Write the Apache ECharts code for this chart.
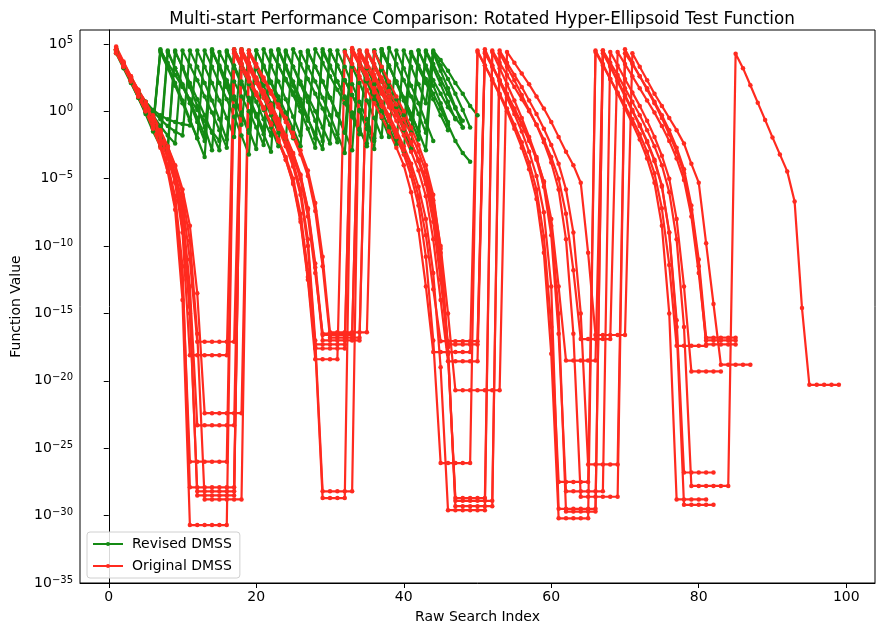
<!DOCTYPE html>
<html><head><meta charset="utf-8">
<script src="https://cdn.jsdelivr.net/npm/echarts@6/dist/echarts.min.js"></script>
<style>html,body{margin:0;padding:0;background:#fff}#c{width:876px;height:635px}</style>
</head><body><div id="c"></div>
<script>
// Values are log10(function value). Each run starts at raw search index 1;
// each inner array is one restart of the search (consecutive indices).
const revised1 = [[4.6,3.5,2.4,1.3,0.1,-1.3],[4.6,3.4,2.1,0.8,-0.6,-2.0,-3.4],[4.4,3.3,2.1,0.9,-0.3,-1.6],[4.5,3.4,2.2,1.1,-0.1,-1.3,-2.6],[4.5,3.3,2.2,1.0,-0.3,-1.6],[4.6,3.5,2.4,1.2,0.0,-1.2,-2.5],[4.5,3.3,2.0,0.6],[4.5,3.8,3.0,2.1,1.3,0.4,-0.3]];
const revised2 = [[4.4,3.3,2.2,1.0,-0.2,-1.5,-2.6],[4.4,3.2,2.0,0.8,-0.5,-1.8],[4.5,3.4,2.3,1.1,-0.1,-1.4,-2.8],[4.6,3.4,2.2,0.9,-0.4,-1.8],[4.4,3.3,2.2,1.0,-0.2,-1.5,-2.9],[4.5,3.2,2.0,0.7,-0.7,-2.1,-3.0],[4.4,3.4,2.4,1.3,0.2,-1.0,-2.2,-3.1,-3.75]];
const revised3 = [[4.5,3.4,2.3,1.2,0.0,-1.2,-2.0,-2.6],[4.5,3.2,1.8,0.4,-1.2,-2.9],[4.4,3.3,2.2,1.1,0.0,-1.2,-2.5],[4.5,3.4,2.3,1.2,0.0,-1.3,-2.7],[4.6,3.4,2.2,1.0,-0.3,-1.7],[4.4,3.3,2.2,1.1,-0.1,-1.4,-2.8],[4.5,3.4,2.3,1.3,0.3,-0.5,-1.2]];
const revised4 = [[4.5,3.4,2.4,1.5,0.7,0.1,-0.3,-0.6,-0.8,-0.95,-1.05],[4.5,3.3,2.1,0.8,-0.5,-1.9],[4.6,3.4,2.2,1.0,-0.3,-1.6],[4.4,3.3,2.2,1.1,0.0,-1.2,-2.4],[4.5,3.3,2.0,0.7,-0.6,-2.0],[4.6,3.4,2.2,1.0,-0.2,-1.5],[4.4,3.2,2.0,0.7,-0.6]];
const revised5 = [[4.3,3.2,2.1,1.0,-0.1,-1.0],[4.5,3.6,2.7,1.8,0.9,0.1,-0.7,-1.5,-2.2],[4.4,3.2,2.0,0.8,-0.4,-1.7,-3.0],[4.5,3.2,1.9,0.6,-0.7],[4.6,3.6,2.6,1.6,0.6,-0.4,-1.4,-2.4],[4.5,3.3,2.1,0.9,-0.3,-1.6],[4.5,3.2,1.9,0.6,-0.8]];
const revised6 = [[4.6,3.5,2.4,1.3,0.2,-0.8,-1.9,-2.9],[4.4,3.3,2.1,0.9,-0.3,-1.6,-2.9],[4.5,3.4,2.2,1.0,-0.2,-1.4],[4.4,3.4,2.4,1.4,0.4,-0.6,-1.7,-2.8],[4.5,3.4,2.3,1.2,0.1,-1.0,-2.2],[4.4,3.3,2.2,1.0,-0.2,-1.5,-2.9],[4.3,3.0,1.7,0.3,-1.2]];
const revised7 = [[4.4,3.3,2.2,1.1,0.0,-1.1,-2.0],[4.5,3.2,1.9,0.6,-0.8,-2.2],[4.6,3.2,1.8,0.4,-1.0],[4.5,3.2,1.9,0.6,-0.7,-2.1],[4.6,3.5,2.4,1.3,0.2,-1.0,-2.3],[4.5,3.3,2.1,0.8,-0.5,-1.9],[4.7,3.5,2.3,1.1,-0.2,-1.6],[4.4,3.4,2.4,1.3,0.1,-1.2]];
const revised8 = [[4.5,3.5,2.5,1.5,0.6,-0.3,-1.1,-1.8,-2.4],[4.5,3.4,2.3,1.1,-0.1,-1.4,-2.7],[4.4,3.2,2.0,0.7,-0.6,-1.8],[4.6,3.4,2.2,0.9,-0.5,-2.0],[4.4,3.3,2.2,1.1,-0.1,-1.3,-2.6],[4.5,3.1,1.7,0.3,-1.1],[4.3,3.2,2.1,0.9,-0.3,-1.4]];
const revised9 = [[4.4,3.4,2.4,1.5,0.7,0.0,-0.6,-1.1,-1.5,-1.8],[4.5,3.3,2.1,0.8,-0.6,-2.1],[4.6,3.5,2.4,1.3,0.1,-1.2,-2.6],[4.5,3.3,2.0,0.7,-0.7,-2.2],[4.5,3.4,2.3,1.2,0.0,-1.3,-2.8],[4.6,3.4,2.1,0.8,-0.6,-2.1],[4.5,3.5,2.4,1.3,0.2,-0.7]];
const revised10 = [[4.7,3.5,2.3,1.1,-0.1,-1.3],[4.4,3.2,1.9,0.6,-0.7,-2.0],[4.5,3.3,2.1,0.9,-0.4,-1.8,-3.2],[4.5,3.3,2.1,0.8,-0.6,-2.0],[4.4,3.3,2.2,1.0,-0.3,-1.7,-3.1],[4.6,3.4,2.2,0.9,-0.5,-1.9],[4.5,3.2,1.9,0.6,-0.8,-2.2]];

const original1 = [
 [4.6,3.5,2.5,1.5,0.5,-0.6,-1.8,-3.0,-4.6,-6.8,-11.0,-17.1,-17.1,-17.1,-17.1,-17.1,-17.1],
 [4.4,3.4,2.4,1.4,0.3,-0.8,-2.0,-3.4,-5.0,-7.8,-12.0,-16.5,-16.5,-16.5,-16.5,-16.5],
 [4.3,3.3,2.3,1.3,0.3,-0.7,-1.8,-3.0,-4.4,-6.3,-9.5,-14.0,-18.55,-18.55,-18.55,-18.55,-18.55],
 [4.4,3.4,2.3,1.2,0.1,-1.0,-2.2,-3.5,-5.2,-8.0,-13.0,-18.5,-18.5,-18.5,-18.5,-18.5],
 [4.3,3.3,2.2,1.1,0.0,-1.1,-2.3,-3.7,-5.6,-9.0,-16.0,-29.2,-29.2,-29.2,-29.2,-29.2]];
const original2 = [
 [4.5,3.4,2.3,1.2,0.2,-0.9,-2.1,-3.5,-5.3,-9.0,-18.1,-18.1,-18.1,-18.1,-18.1,-18.1],
 [4.5,3.5,2.5,1.4,0.3,-0.9,-2.2,-3.6,-5.4,-8.2,-12.5,-18.4,-18.4,-18.4,-18.4],
 [4.4,3.5,2.6,1.6,0.6,-0.4,-1.5,-2.7,-4.0,-6.0,-8.8,-13.0,-17.87,-17.87,-17.87,-17.87,-17.87,-17.87],
 [4.5,3.4,2.3,1.2,0.0,-1.3,-2.7,-4.3,-6.5,-10.5,-18.0,-30.2,-30.2,-30.2,-30.2,-30.2],
 [4.5,3.5,2.4,1.3,0.2,-0.9,-2.1,-3.5,-5.3,-8.5,-15.0,-28.8,-28.8,-28.8,-28.8,-28.8]];
const original3 = [
 [4.4,3.4,2.5,1.6,0.7,-0.3,-1.4,-2.6,-4.0,-5.8,-8.5,-13.5,-22.4,-22.4,-22.4,-22.4,-22.4,-22.4],
 [4.3,3.3,2.3,1.3,0.3,-0.8,-1.9,-3.2,-4.8,-7.4,-11.5,-16.8,-16.8,-16.8,-16.8,-16.8],
 [4.5,3.5,2.5,1.5,0.5,-0.6,-1.7,-3.0,-4.5,-6.6,-10.0,-15.0,-20.7,-20.7,-20.7,-20.7,-20.7,-20.7,-20.7],
 [4.4,3.6,2.8,2.0,1.1,0.2,-0.8,-1.9,-3.0,-4.0,-5.3,-10.5,-16.6,-16.6,-16.6,-16.6,-16.6],
 [4.3,3.3,2.3,1.3,0.4,-0.5,-1.4,-2.4,-3.9,-5.3,-9.8,-14.3,-18.8,-18.8,-18.8,-18.8,-18.8]];
const original4 = [
 [4.7,3.6,2.6,1.5,0.5,-0.6,-1.7,-3.0,-4.8,-7.5,-13.0,-23.3,-23.3,-23.3,-23.3,-23.3,-23.3],
 [4.5,3.5,2.4,1.3,0.2,-1.0,-2.3,-3.8,-5.8,-9.5,-17.0,-28.2,-28.2,-28.2,-28.2,-28.2],
 [4.2,3.3,2.4,1.5,0.6,-0.3,-1.3,-2.4,-3.6,-5.0,-7.0,-10.5,-17.5,-29.3,-29.3,-29.3,-29.3,-29.3,-29.3],
 [4.3,3.3,2.3,1.2,0.1,-1.0,-2.3,-3.8,-5.8,-9.5,-16.5,-28.6,-28.6,-28.6,-28.6,-28.6,-28.6],
 [4.3,3.5,2.6,1.7,0.7,-0.3,-1.4,-2.7,-4.3,-7.0,-11.0,-16.8,-16.8,-16.8,-16.8,-16.8]];
const original5 = [
 [4.5,3.3,2.2,1.1,0.0,-1.2,-2.5,-4.2,-6.6,-12.5,-26.0,-26.0,-26.0,-26.0,-26.0,-26.0],
 [4.3,3.2,2.2,1.2,0.2,-0.9,-2.1,-3.4,-5.0,-7.6,-11.8,-17.3,-17.3,-17.3,-17.3,-17.3],
 [4.6,3.6,2.6,1.5,0.4,-0.7,-1.9,-3.2,-4.8,-7.0,-10.8,-17.0,-26.1,-26.1,-26.1,-26.1,-26.1],
 [4.4,3.4,2.4,1.3,0.2,-1.0,-2.3,-3.8,-5.8,-9.3,-16.0,-27.5,-27.5,-27.5,-27.5,-27.5],
 [4.4,3.4,2.4,1.4,0.4,-0.6,-1.7,-3.0,-4.6,-7.2,-11.4,-17.4,-17.4,-17.4,-17.4,-17.4]];
const original6 = [
 [4.6,3.5,2.3,1.2,0.1,-1.1,-2.4,-4.0,-6.3,-11.5,-27.9,-27.9,-27.9,-27.9,-27.9,-27.9,-27.9],
 [4.6,3.6,2.5,1.5,0.5,-0.6,-1.8,-3.1,-4.7,-7.2,-11.3,-16.6,-16.6,-16.6,-16.6,-16.6],
 [4.5,3.6,2.7,1.7,0.8,-0.2,-1.2,-2.3,-3.6,-5.2,-7.5,-11.5,-18.0,-28.7,-28.7,-28.7,-28.7,-28.7],
 [4.5,3.6,2.7,1.8,0.9,0.0,-1.0,-2.1,-3.4,-5.0,-7.6,-11.8,-16.9,-16.9,-16.9,-16.9,-16.9],
 [4.4,3.5,2.6,1.7,0.8,-0.1,-1.1,-2.2,-3.5,-5.1,-7.8,-12.0,-17.0,-17.0,-17.0,-17.0,-17.0]];
const original7 = [
 [4.4,3.4,2.4,1.4,0.4,-0.7,-1.9,-3.3,-5.2,-8.3,-15.0,-28.2,-28.2,-28.2,-28.2,-28.2,-28.2],
 [4.3,3.2,2.1,1.0,-0.1,-1.3,-2.6,-4.1,-6.2,-10.0,-17.5,-28.7,-28.7,-28.7,-28.7],
 [4.4,3.4,2.4,1.4,0.4,-0.6,-1.7,-2.9,-4.3,-6.3,-9.2,-13.2,-17.06,-17.06,-17.06,-17.06,-17.06,-17.06],
 [4.6,3.4,2.2,1.0,-0.2,-1.5,-3.0,-4.8,-7.5,-13.0,-29.5,-29.5,-29.5,-29.5,-29.5,-29.5],
 [4.5,3.4,2.3,1.2,0.1,-1.0,-2.2,-3.6,-5.5,-9.0,-15.5,-26.8,-26.8,-26.8,-26.8,-26.8]];
const original8 = [
 [4.8,3.7,2.6,1.6,0.6,-0.5,-1.6,-2.9,-4.7,-7.6,-14.5,-28.5,-28.5,-28.5,-28.5,-28.5,-28.5],
 [4.4,3.4,2.4,1.4,0.4,-0.7,-1.9,-3.2,-4.8,-7.3,-11.6,-17.0,-17.0,-17.0,-17.0,-17.0,-17.0],
 [4.4,3.3,2.2,1.1,0.0,-1.1,-2.3,-3.7,-5.4,-8.2,-12.5,-17.3,-17.3,-17.3,-17.3,-17.3],
 [4.3,3.3,2.3,1.3,0.2,-0.9,-2.1,-3.6,-5.6,-9.2,-16.5,-28.2,-28.2,-28.2,-28.2,-28.2,-28.2],
 [4.4,3.4,2.4,1.4,0.4,-0.7,-1.9,-3.3,-5.0,-8.0,-13.0,-19.3,-19.3,-19.3,-19.3,-19.3]];
const original9 = [
 [4.3,3.3,2.4,1.5,0.6,-0.4,-1.5,-2.7,-4.1,-6.2,-9.6,-16.5,-28.8,-28.8,-28.8,-28.8,-28.8,-28.8],
 [4.5,3.5,2.5,1.5,0.5,-0.5,-1.6,-2.9,-4.4,-6.8,-10.8,-16.4,-16.4,-16.4,-16.4,-16.4,-16.4],
 [4.4,3.3,2.2,1.1,0.0,-1.2,-2.5,-4.0,-6.2,-10.2,-18.0,-28.9,-28.9,-28.9,-28.9,-28.9,-28.9],
 [4.5,3.6,2.7,1.8,0.8,-0.2,-1.3,-2.5,-3.9,-5.8,-9.0,-15.0,-26.2,-26.2,-26.2,-26.2,-26.2],
 [4.6,3.6,2.6,1.6,0.6,-0.5,-1.7,-3.0,-4.6,-7.3,-11.5,-17.3,-17.3,-17.3,-17.3,-17.3]];
const original10 = [
 [4.6,3.4,2.3,1.1,0.0,-1.3,-2.7,-4.5,-7.3,-14.0,-30.7,-30.7,-30.7,-30.7,-30.7,-30.7],
 [4.6,3.5,2.4,1.3,0.2,-1.0,-2.2,-3.6,-5.3,-8.0,-12.3,-17.6,-17.6,-17.6,-17.6,-17.6],
 [4.7,3.7,2.7,1.7,0.7,-0.3,-1.4,-2.6,-3.9,-5.6,-8.0,-12.0,-19.0,-29.6,-29.6,-29.6,-29.6,-29.6,-29.6],
 [4.4,3.2,2.0,0.8,-0.5,-1.9,-3.4,-5.3,-8.5,-15.0,-29.7,-29.7,-29.7,-29.7,-29.7],
 [4.5,3.6,2.7,1.7,0.7,-0.3,-1.4,-2.6,-4.0,-6.0,-9.5,-16.0,-27.8,-27.8,-27.8,-27.8,-27.8,-27.8],
 [4.26,3.2,1.93,0.64,-0.64,-1.94,-3.2,-4.46,-6.7,-14.6,-20.3,-20.3,-20.3,-20.3,-20.3]];

const revisedRuns = [revised1,revised2,revised3,revised4,revised5,revised6,revised7,revised8,revised9,revised10];
const originalRuns = [original1,original2,original3,original4,original5,original6,original7,original8,original9,original10];
const seriesNames = ['Revised DMSS','Original DMSS'];
const xTicks = [0,20,40,60,80,100];
const yTickExps = [-35,-30,-25,-20,-15,-10,-5,0,5];
const title = 'Multi-start Performance Comparison: Rotated Hyper-Ellipsoid Test Function';

const FONT = 'DejaVu Sans';
const GREEN = '#148a14';
const RED = '#ff2a1f';

function toPoints(phases){
  const pts = []; let x = 1;
  phases.forEach(ph => ph.forEach(e => { pts.push([x, Math.pow(10, e)]); x++; }));
  return pts;
}
function mk(name, color, pts){
  return {type:'line', name, data:pts, symbol:'circle', symbolSize:4.5, showAllSymbol:true,
    lineStyle:{color, width:2.2}, itemStyle:{color}, emphasis:{disabled:true}, silent:true, animation:false};
}
const series = [];
revisedRuns.forEach(r => series.push(mk(seriesNames[0], GREEN, toPoints(r))));
originalRuns.forEach(r => series.push(mk(seriesNames[1], RED, toPoints(r))));

const yTickVals = yTickExps.map(e => Math.pow(10, e));
const chart = echarts.init(document.getElementById('c'), null, {renderer:'canvas'});
chart.setOption({
  animation:false,
  backgroundColor:'#fff',
  title:{text:title, left:477, top:6, textAlign:'center',
    textStyle:{fontFamily:FONT, fontSize:16.8, fontWeight:'normal', color:'#000'}},
  grid:{left:80, right:1, top:30, bottom:52, show:true, borderColor:'#000', borderWidth:1, backgroundColor:'transparent'},
  legend:{data:seriesNames, orient:'vertical', left:87, top:532, itemWidth:30, itemHeight:5, itemGap:8,
    textStyle:{fontFamily:FONT, fontSize:14, color:'#000', padding:[0,0,0,4]},
    borderColor:'#d0d0d0', borderWidth:1, borderRadius:3, backgroundColor:'rgba(255,255,255,0.85)', padding:[5,8,5,5]},
  xAxis:{type:'value', min:-3.9, max:103.9,
    name:'Raw Search Index', nameLocation:'middle', nameGap:27,
    nameTextStyle:{fontFamily:FONT, fontSize:14, color:'#000'},
    axisLine:{onZero:false, lineStyle:{color:'#000', width:1}},
    axisTick:{customValues:xTicks, length:5, lineStyle:{color:'#000'}},
    axisLabel:{customValues:xTicks, fontFamily:FONT, fontSize:14, color:'#000', margin:7},
    splitLine:{show:false}},
  yAxis:{type:'log', logBase:10, min:1e-35, max:Math.pow(10,6.03),
    name:'Function Value', nameLocation:'middle', nameGap:55,
    nameTextStyle:{fontFamily:FONT, fontSize:14, color:'#000'},
    axisLine:{show:true, lineStyle:{color:'#000', width:1}},
    axisTick:{show:true, customValues:yTickVals, length:5, lineStyle:{color:'#000'}},
    axisLabel:{customValues:yTickVals, margin:7,
      formatter: v => { const e = Math.round(Math.log10(v)); return '{b|10}{s|' + (e < 0 ? '\u2212' + (-e) : String(e)) + '}'; },
      rich:{b:{fontFamily:FONT, fontSize:14, color:'#000'}, s:{fontFamily:FONT, fontSize:10, color:'#000', verticalAlign:'top', padding:[0,0,6,0]}}},
    splitLine:{show:false}, minorTick:{show:false}},
  series
});
</script></body></html>
